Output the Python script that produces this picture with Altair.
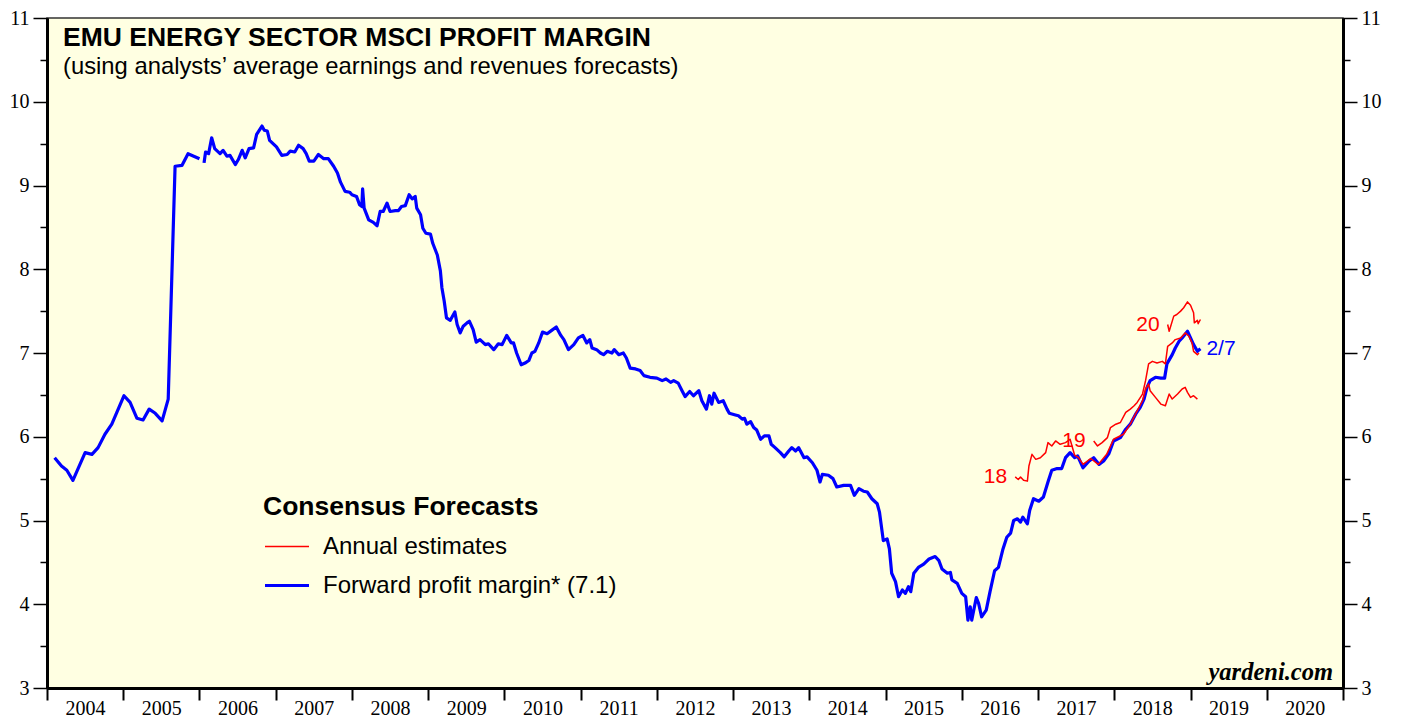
import altair as alt
import pandas as pd

TITLE = "EMU ENERGY SECTOR MSCI PROFIT MARGIN"
SUBTITLE = "(using analysts\u2019 average earnings and revenues forecasts)"
SER_A = "Annual estimates"
SER_F = "Forward profit margin* (7.1)"
SOURCE = "yardeni.com"
LAST_DATE = "2/7"

# Forward profit margin, segment 1 (2004 - end 2005)
fwd1_year = [2004.10, 2004.19, 2004.26, 2004.34, 2004.50, 2004.59, 2004.67, 2004.76, 2004.85,
             2005.01, 2005.09, 2005.18, 2005.26, 2005.34, 2005.42, 2005.51, 2005.59, 2005.68,
             2005.77, 2005.85, 2006.00]
fwd1_val = [5.75, 5.65, 5.60, 5.48, 5.81, 5.79, 5.87, 6.03, 6.15,
            6.49, 6.41, 6.22, 6.20, 6.33, 6.28, 6.19, 6.45, 9.23,
            9.24, 9.38, 9.32]

# Forward profit margin, segment 2 (2006 - 2019)
fwd2_year = [2006.06, 2006.08, 2006.12, 2006.16, 2006.20, 2006.27, 2006.31, 2006.36, 2006.40,
             2006.47, 2006.51, 2006.56, 2006.60, 2006.65, 2006.71, 2006.75, 2006.82, 2006.85,
             2006.89, 2006.92, 2007.01, 2007.08, 2007.15, 2007.19, 2007.25, 2007.30, 2007.36,
             2007.40, 2007.44, 2007.50, 2007.56, 2007.63, 2007.69, 2007.76, 2007.81, 2007.85,
             2007.91, 2007.97, 2008.00, 2008.06, 2008.10, 2008.13, 2008.14, 2008.16, 2008.22,
             2008.28, 2008.33, 2008.37, 2008.41, 2008.46, 2008.50, 2008.57, 2008.61, 2008.65,
             2008.70, 2008.75, 2008.79, 2008.83, 2008.85, 2008.90, 2008.93, 2008.97, 2009.03,
             2009.06, 2009.12, 2009.16, 2009.18, 2009.21, 2009.24, 2009.29, 2009.35, 2009.38,
             2009.42, 2009.46, 2009.51, 2009.54, 2009.59, 2009.63, 2009.68, 2009.75, 2009.79,
             2009.86, 2009.92, 2009.97, 2010.03, 2010.09, 2010.12, 2010.16, 2010.22, 2010.27,
             2010.32, 2010.36, 2010.40, 2010.45, 2010.50, 2010.56, 2010.62, 2010.68, 2010.74,
             2010.78, 2010.84, 2010.91, 2010.97, 2011.03, 2011.08, 2011.12, 2011.15, 2011.21,
             2011.26, 2011.30, 2011.35, 2011.41, 2011.44, 2011.50, 2011.56, 2011.60, 2011.65,
             2011.72, 2011.78, 2011.83, 2011.91, 2012.00, 2012.07, 2012.12, 2012.18, 2012.22,
             2012.28, 2012.33, 2012.37, 2012.43, 2012.48, 2012.55, 2012.59, 2012.65, 2012.69,
             2012.72, 2012.75, 2012.81, 2012.87, 2012.92, 2012.95, 2013.03, 2013.07, 2013.12,
             2013.15, 2013.18, 2013.23, 2013.27, 2013.31, 2013.36, 2013.41, 2013.47, 2013.50,
             2013.55, 2013.62, 2013.67, 2013.73, 2013.77, 2013.82, 2013.86, 2013.93, 2013.97,
             2014.04, 2014.10, 2014.14, 2014.17, 2014.25, 2014.31, 2014.36, 2014.45, 2014.54,
             2014.59, 2014.65, 2014.71, 2014.76, 2014.82, 2014.89, 2014.92, 2014.97, 2015.02,
             2015.05, 2015.08, 2015.13, 2015.17, 2015.22, 2015.26, 2015.30, 2015.33, 2015.37,
             2015.43, 2015.50, 2015.57, 2015.65, 2015.70, 2015.74, 2015.81, 2015.85, 2015.87,
             2015.94, 2016.00, 2016.05, 2016.08, 2016.11, 2016.13, 2016.19, 2016.22, 2016.26,
             2016.32, 2016.37, 2016.43, 2016.48, 2016.54, 2016.59, 2016.64, 2016.68, 2016.73,
             2016.77, 2016.80, 2016.86, 2016.89, 2016.94, 2017.01, 2017.07, 2017.13, 2017.18,
             2017.25, 2017.31, 2017.36, 2017.42, 2017.48, 2017.52, 2017.59, 2017.67, 2017.73,
             2017.80, 2017.86, 2017.93, 2017.99, 2018.08, 2018.15, 2018.21, 2018.28, 2018.34,
             2018.39, 2018.43, 2018.47, 2018.54, 2018.61, 2018.66, 2018.69, 2018.76, 2018.80,
             2018.85, 2018.89, 2018.96, 2019.00, 2019.04, 2019.09, 2019.13]
fwd2_val = [9.27, 9.40, 9.38, 9.57, 9.44, 9.38, 9.42, 9.35, 9.36,
            9.25, 9.31, 9.42, 9.33, 9.44, 9.45, 9.61, 9.71, 9.66,
            9.65, 9.54, 9.46, 9.36, 9.37, 9.41, 9.40, 9.48, 9.44,
            9.38, 9.29, 9.29, 9.37, 9.32, 9.32, 9.23, 9.15, 9.04,
            8.93, 8.92, 8.89, 8.87, 8.77, 8.75, 8.96, 8.73, 8.59,
            8.56, 8.52, 8.69, 8.69, 8.79, 8.69, 8.70, 8.70, 8.75,
            8.76, 8.89, 8.84, 8.87, 8.73, 8.65, 8.49, 8.43, 8.42,
            8.31, 8.17, 7.98, 7.78, 7.62, 7.42, 7.39, 7.49, 7.34,
            7.24, 7.32, 7.36, 7.38, 7.28, 7.13, 7.16, 7.10, 7.11,
            7.04, 7.11, 7.10, 7.21, 7.12, 7.12, 7.00, 6.86, 6.88,
            6.91, 7.00, 7.02, 7.12, 7.25, 7.23, 7.27, 7.31, 7.21,
            7.16, 7.04, 7.10, 7.18, 7.21, 7.12, 7.16, 7.06, 7.04,
            7.00, 6.98, 7.02, 7.00, 7.04, 6.98, 7.00, 6.94, 6.82,
            6.81, 6.79, 6.73, 6.71, 6.70, 6.67, 6.69, 6.65, 6.67,
            6.64, 6.55, 6.48, 6.54, 6.49, 6.55, 6.43, 6.33, 6.49,
            6.39, 6.52, 6.41, 6.43, 6.33, 6.28, 6.26, 6.25, 6.21,
            6.22, 6.15, 6.18, 6.11, 6.08, 5.97, 6.01, 6.01, 5.91,
            5.87, 5.81, 5.76, 5.83, 5.87, 5.83, 5.87, 5.75, 5.76,
            5.69, 5.60, 5.46, 5.55, 5.54, 5.50, 5.40, 5.42, 5.42,
            5.30, 5.38, 5.35, 5.34, 5.26, 5.20, 5.10, 4.76, 4.78,
            4.66, 4.37, 4.27, 4.09, 4.17, 4.13, 4.21, 4.15, 4.37,
            4.44, 4.48, 4.54, 4.57, 4.52, 4.42, 4.37, 4.38, 4.29,
            4.25, 4.13, 4.09, 3.81, 3.97, 3.81, 4.08, 4.01, 3.85,
            3.93, 4.15, 4.40, 4.44, 4.66, 4.80, 4.85, 5.00, 5.02,
            4.98, 5.04, 4.96, 5.12, 5.26, 5.23, 5.28, 5.46, 5.60,
            5.62, 5.62, 5.75, 5.81, 5.75, 5.77, 5.63, 5.71, 5.75,
            5.67, 5.71, 5.80, 5.95, 5.99, 6.09, 6.15, 6.27, 6.35,
            6.45, 6.59, 6.67, 6.71, 6.70, 6.70, 6.87, 6.98, 7.06,
            7.14, 7.18, 7.26, 7.18, 7.10, 7.02, 7.05]

# Annual estimates
e18_year = [2016.70, 2016.74, 2016.77, 2016.81, 2016.86, 2016.88, 2016.92, 2016.97, 2017.03,
            2017.10, 2017.13, 2017.18, 2017.23, 2017.29, 2017.36, 2017.42, 2017.48, 2017.53,
            2017.59, 2017.69, 2017.79, 2017.90, 2017.99, 2018.12, 2018.21, 2018.30, 2018.37,
            2018.41, 2018.45, 2018.47, 2018.54, 2018.61, 2018.67, 2018.72, 2018.76, 2018.83,
            2018.89, 2018.93, 2018.96, 2019.00, 2019.04, 2019.09]
e18_val = [5.52, 5.49, 5.52, 5.48, 5.47, 5.65, 5.79, 5.73, 5.75,
           5.81, 5.93, 5.89, 5.95, 5.91, 5.93, 5.97, 5.78, 5.75,
           5.67, 5.74, 5.67, 5.79, 5.97, 6.03, 6.15, 6.31, 6.43,
           6.57, 6.63, 6.55, 6.47, 6.39, 6.37, 6.51, 6.45, 6.51,
           6.57, 6.59, 6.53, 6.47, 6.49, 6.45]

e19_year = [2017.73, 2017.78, 2017.84, 2017.91, 2017.95, 2018.02, 2018.08, 2018.15, 2018.21,
            2018.26, 2018.30, 2018.37, 2018.41, 2018.45, 2018.50, 2018.56, 2018.63, 2018.67,
            2018.70, 2018.76, 2018.80, 2018.87, 2018.93, 2018.98, 2019.02, 2019.04, 2019.09,
            2019.11]
e19_val = [5.95, 5.89, 5.93, 5.99, 6.11, 6.15, 6.17, 6.29, 6.33,
           6.37, 6.41, 6.51, 6.67, 6.87, 6.90, 6.88, 6.90, 6.87,
           7.08, 7.12, 7.16, 7.18, 7.24, 7.20, 7.12, 7.02, 6.98,
           7.00]

e20_year = [2018.70, 2018.72, 2018.78, 2018.82, 2018.87, 2018.91, 2018.96, 2019.00, 2019.04,
            2019.05, 2019.09, 2019.10, 2019.13]
e20_val = [7.34, 7.26, 7.44, 7.46, 7.50, 7.54, 7.61, 7.57, 7.48,
           7.36, 7.39, 7.35, 7.40]

year_ticks = list(range(2004, 2022))
y_major = [3, 4, 5, 6, 7, 8, 9, 10, 11]
y_minor = [3.5, 4.5, 5.5, 6.5, 7.5, 8.5, 9.5, 10.5]

# ---- tables ----
blue_df = pd.concat([
    pd.DataFrame({"year": fwd1_year, "value": fwd1_val, "grp": "f1"}),
    pd.DataFrame({"year": fwd2_year, "value": fwd2_val, "grp": "f2"}),
], ignore_index=True)
blue_df["series"] = SER_F

red_df = pd.concat([
    pd.DataFrame({"year": e18_year, "value": e18_val, "grp": "18"}),
    pd.DataFrame({"year": e19_year, "value": e19_val, "grp": "19"}),
    pd.DataFrame({"year": e20_year, "value": e20_val, "grp": "20"}),
], ignore_index=True)
red_df["series"] = SER_A

red_lab = pd.DataFrame({
    "year": [e18_year[0], e19_year[0], e20_year[0]],
    "value": [e18_val[0], e19_val[0], e20_val[0]],
    "t": ["18", "19", "20"],
})
blue_lab = pd.DataFrame({"year": [fwd2_year[-1]], "value": [fwd2_val[-1]], "t": [LAST_DATE]})

SANS = "Liberation Sans"
SERIF = "Liberation Serif"

x_axis = alt.Axis(values=year_ticks, format="d",
                  labelExpr="datum.value < 2021 ? datum.label : ''",
                  labelOffset=38, labelPadding=-2, tickSize=12, tickWidth=2,
                  tickColor="black", domainColor="black", domainWidth=3,
                  labelFont=SERIF, labelFontSize=20, labelColor="black",
                  labelFlush=False, labelOverlap=False, grid=False, title=None)
X = alt.X("year:Q", scale=alt.Scale(domain=[2004, 2021], nice=False, zero=False), axis=x_axis)
ysc = alt.Scale(domain=[3, 11], nice=False, zero=False)


def yaxis(orient, values, size, labels):
    return alt.Axis(orient=orient, values=values, format="d", labels=labels,
                    tickSize=size, tickWidth=1.5, tickColor="black",
                    domainColor="black", domainWidth=3,
                    labelFont=SERIF, labelFontSize=20, labelColor="black",
                    labelPadding=4, labelFlush=False, labelOverlap=False,
                    grid=False, title=None)


legend = alt.Legend(title="Consensus Forecasts", orient="none", legendX=216, legendY=476,
                    symbolType="stroke", symbolSize=1936, clipHeight=30, rowPadding=9,
                    titlePadding=11, titleFont=SANS, titleFontSize=26.5, titleFontWeight="bold",
                    titleColor="black", titleLimit=500, labelFont=SANS, labelFontSize=24,
                    labelColor="black", labelLimit=500, labelOffset=12, padding=0)

color = alt.Color("series:N", scale=alt.Scale(domain=[SER_A, SER_F], range=["#FF0000", "#0000FF"]),
                  legend=legend)
width_enc = alt.StrokeWidth("series:N",
                            scale=alt.Scale(type="point", domain=[SER_A, SER_F], range=[1.5, 3.2], padding=0),
                            legend=legend)

blue = alt.Chart(blue_df).mark_line(strokeJoin="round").encode(
    x=X, y=alt.Y("value:Q", scale=ysc, axis=yaxis("left", y_major, 14, True)),
    color=color, strokeWidth=width_enc, detail="grp:N")

red = alt.Chart(red_df).mark_line(strokeJoin="round").encode(
    x=X, y=alt.Y("value:Q", scale=ysc, axis=yaxis("right", y_major, 14, True)),
    color=color, strokeWidth=width_enc, detail="grp:N")

minor_left = alt.Chart(blue_df).mark_line(opacity=0).encode(
    x=X, y=alt.Y("value:Q", scale=ysc, axis=yaxis("left", y_minor, 7, False)), detail="grp:N")
minor_right = alt.Chart(blue_df).mark_line(opacity=0).encode(
    x=X, y=alt.Y("value:Q", scale=ysc, axis=yaxis("right", y_minor, 7, False)), detail="grp:N")

red_text = alt.Chart(red_lab).mark_text(align="right", baseline="middle", dx=-8, font=SANS,
                                         fontSize=21, color="#FF0000").encode(
    x=X, y=alt.Y("value:Q", scale=ysc, axis=None), text="t:N")
blue_text = alt.Chart(blue_lab).mark_text(align="left", baseline="middle", dx=6, font=SANS,
                                           fontSize=21, color="#0000FF").encode(
    x=X, y=alt.Y("value:Q", scale=ysc, axis=None), text="t:N")

title = alt.Chart(pd.DataFrame({"t": [TITLE]})).mark_text(
    align="left", baseline="alphabetic", font=SANS, fontSize=26.5, fontWeight="bold", color="black"
).encode(x=alt.value(16), y=alt.value(28), text="t:N")
subtitle = alt.Chart(pd.DataFrame({"t": [SUBTITLE]})).mark_text(
    align="left", baseline="alphabetic", font=SANS, fontSize=23.8, color="black"
).encode(x=alt.value(16), y=alt.value(56), text="t:N")
source = alt.Chart(pd.DataFrame({"t": [SOURCE]})).mark_text(
    align="right", baseline="alphabetic", font=SERIF, fontSize=24.5, fontWeight="bold",
    fontStyle="italic", color="black"
).encode(x=alt.value(1286), y=alt.value(662), text="t:N")

chart = alt.layer(
    blue, red, minor_left, minor_right, red_text, blue_text, title, subtitle, source
).resolve_axis(y="independent").properties(
    width=1296, height=670,
    autosize=alt.AutoSizeParams(type="none"),
    padding={"left": 39, "top": 10, "right": 50, "bottom": 30},
    background="white",
).configure_view(fill="#FFFFE2", stroke="#333333", strokeWidth=1.5)

chart.save("out.html", embed_options={"renderer": "svg", "actions": False})
